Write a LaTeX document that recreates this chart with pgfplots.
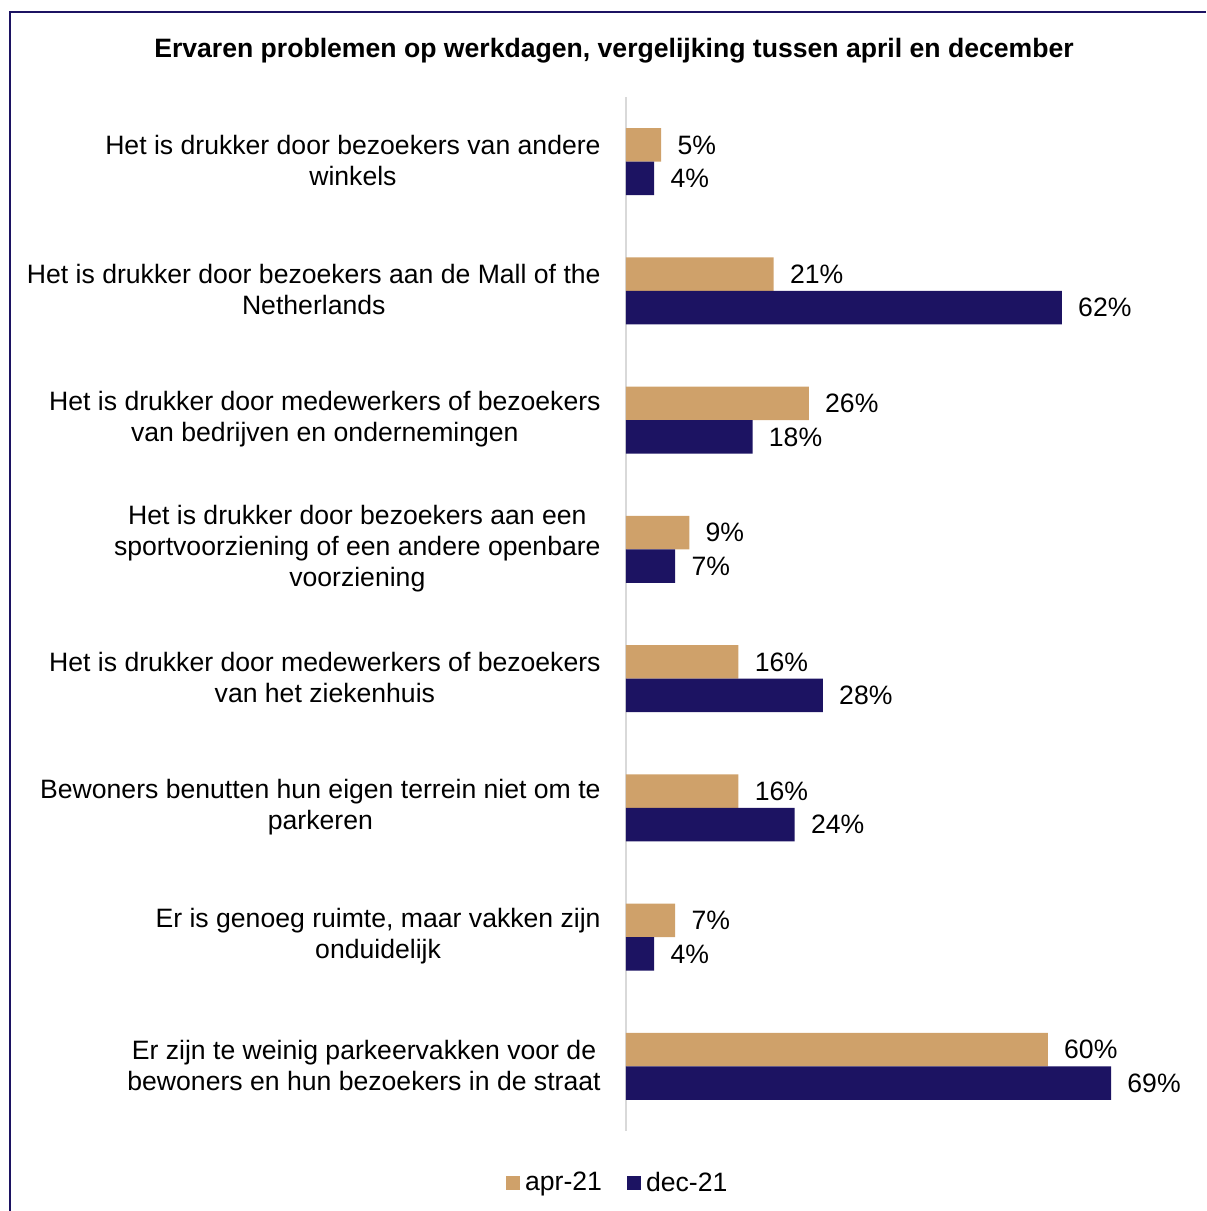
\documentclass[border=0pt]{standalone}
\usepackage{pgfplots}
\pgfplotsset{compat=1.18}
\usepackage{fontspec}
\setmainfont{Liberation Sans}
\definecolor{aprcol}{RGB}{207,161,106}
\definecolor{deccol}{RGB}{28,19,98}
\definecolor{axgray}{RGB}{217,217,217}
\newcommand{\lf}{\fontsize{13.3}{15.5}\selectfont}
\begin{document}
\begin{tikzpicture}[x=1pt,y=1pt]
\path[use as bounding box] (0,0) rectangle (603,-605.5);
\draw[deccol, line width=1pt] (5,-605.5) -- (5,-6) -- (603,-6);
\node[font=\lf\bfseries] at (307,-25.5) {Ervaren problemen op werkdagen, vergelijking tussen april en december};
\begin{axis}[
  at={(313pt,-48.5pt)}, anchor=north west,
  scale only axis, width=281.2pt, height=517pt,
  xmin=0, xmax=80, ymin=0.5, ymax=8.5,
  y dir=reverse, clip=false,
  xbar, bar width=0.259,
  /pgf/number format/assume math mode=true,
  axis x line=none, axis y line*=left,
  y axis line style={axgray, line width=1pt, -},
  ytick={1,...,8}, major tick length=0,
  yticklabels={
    {Het is drukker door bezoekers van andere\\winkels},
    {Het is drukker door bezoekers aan de Mall of the\\Netherlands},
    {Het is drukker door medewerkers of bezoekers\\van bedrijven en ondernemingen},
    {Het is drukker door bezoekers aan een\\sportvoorziening of een andere openbare\\voorziening},
    {Het is drukker door medewerkers of bezoekers\\van het ziekenhuis},
    {Bewoners benutten hun eigen terrein niet om te\\parkeren},
    {Er is genoeg ruimte, maar vakken zijn\\onduidelijk},
    {Er zijn te weinig parkeervakken voor de\\bewoners en hun bezoekers in de straat}},
  yticklabel style={font=\lf, align=center, inner sep=0pt, xshift=-12.5pt, yshift=0.5pt},
  nodes near coords={\pgfmathprintnumber{\pgfplotspointmeta}\%},
  nodes near coords style={font=\lf, anchor=west, inner sep=0pt, xshift=8pt, text=black},
  legend style={at={(-0.012,-0.0503)}, anchor=center, draw=none, font=\lf,
    legend columns=2, /tikz/every even column/.append style={column sep=10pt},
    inner sep=0pt, nodes={inner sep=2.5pt}},
  legend image code/.code={\fill[#1] (0pt,-3.5pt) rectangle (7pt,3.5pt);},
]
\addplot[fill=aprcol, draw=none, bar shift=-0.1295] coordinates {(5,1) (21,2) (26,3) (9,4) (16,5) (16,6) (7,7) (60,8)};
\addlegendentry{apr-21}
\addplot[fill=deccol, draw=none, bar shift=0.1295] coordinates {(4,1) (62,2) (18,3) (7,4) (28,5) (24,6) (4,7) (69,8)};
\addlegendentry{dec-21}
\end{axis}
\end{tikzpicture}
\end{document}
